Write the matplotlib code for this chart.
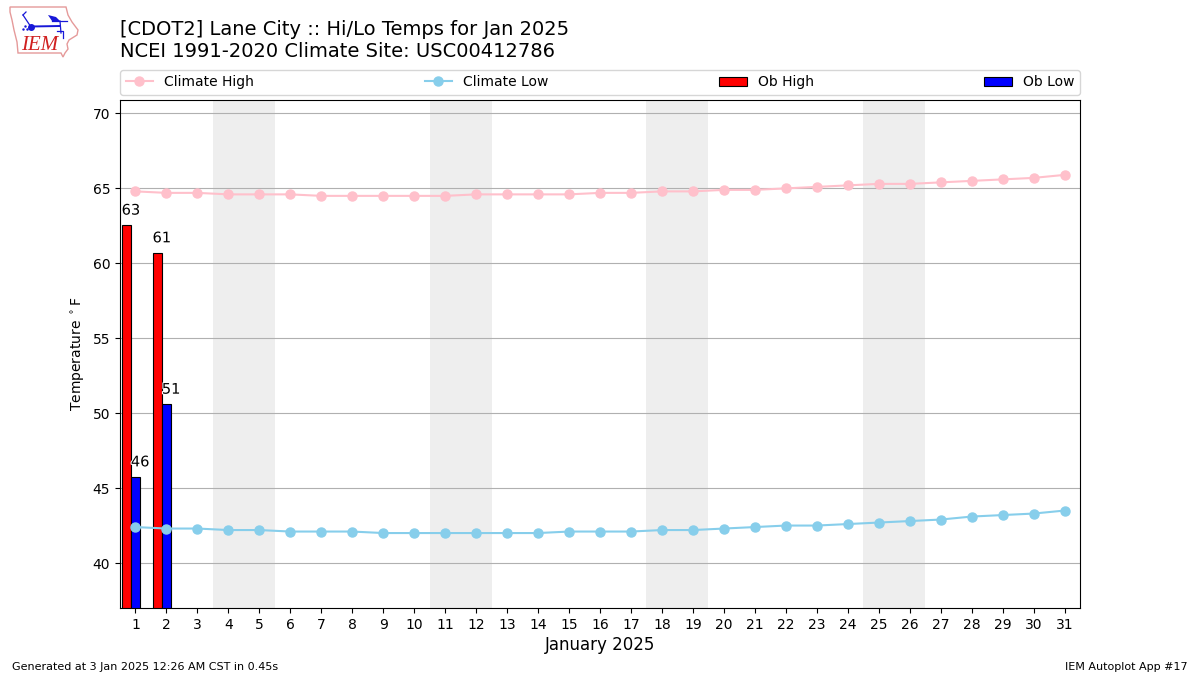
import numpy as np
import matplotlib
matplotlib.use("Agg")
import matplotlib.pyplot as plt
import matplotlib.patheffects as pe

days = list(range(1, 32))
climate_high = [64.8, 64.7, 64.7, 64.6, 64.6, 64.6, 64.5, 64.5, 64.5, 64.5, 64.5,
                64.6, 64.6, 64.6, 64.6, 64.7, 64.7, 64.8, 64.8, 64.9, 64.9, 65.0,
                65.1, 65.2, 65.3, 65.3, 65.4, 65.5, 65.6, 65.7, 65.9]
climate_low = [42.4, 42.3, 42.3, 42.2, 42.2, 42.1, 42.1, 42.1, 42.0, 42.0, 42.0,
               42.0, 42.0, 42.0, 42.1, 42.1, 42.1, 42.2, 42.2, 42.3, 42.4, 42.5,
               42.5, 42.6, 42.7, 42.8, 42.9, 43.1, 43.2, 43.3, 43.5]
ob_days = [1, 2]
ob_high = [62.55, 60.7]
ob_low = [45.75, 50.6]
ob_high_labels = ["63", "61"]
ob_low_labels = ["46", "51"]
weekends = [4, 11, 18, 25]

# logo outline in pixels of the figure
iowa_x = [10, 66, 68, 72, 78, 77, 69, 67, 68, 65, 63, 61, 18, 17, 14, 12, 10]
iowa_y = [7, 7, 15, 22, 30, 35, 40, 44, 49, 53, 57, 53, 53, 42, 30, 20, 12]

fig = plt.figure(figsize=(12, 6.75), dpi=100)
ax = fig.add_axes([0.1, 0.0993, 0.8, 0.7526])

# shade the weekends
for d in weekends:
    ax.axvspan(d - 0.5, d + 1.5, color="#eeeeee", lw=0, zorder=0)

ax.bar([d - 0.3 for d in ob_days], ob_high, width=0.3, color="r", ec="k", lw=0.8,
       label="Ob High", zorder=2)
ax.bar(ob_days, ob_low, width=0.3, color="b", ec="k", lw=0.8, label="Ob Low", zorder=2)
ax.plot(days, climate_high, color="pink", marker="o", ms=6.5, label="Climate High", zorder=3)
ax.plot(days, climate_low, color="skyblue", marker="o", ms=6.5, label="Climate Low", zorder=3)

halo = [pe.withStroke(linewidth=1.5, foreground="white")]
for d, v, s in zip(ob_days, ob_high, ob_high_labels):
    ax.text(d - 0.15, v + 0.5, s, ha="center", va="bottom", fontsize=10.5, zorder=4,
            path_effects=halo)
for d, v, s in zip(ob_days, ob_low, ob_low_labels):
    ax.text(d + 0.15, v + 0.5, s, ha="center", va="bottom", fontsize=10.5, zorder=4,
            path_effects=halo)

ax.set_xlim(0.5, 31.5)
ax.set_ylim(37, 70.9)
ax.set_xticks(days)
ax.set_yticks(range(40, 71, 5))
ax.grid(axis="y", color="#b0b0b0", lw=0.8, zorder=1)
ax.set_axisbelow(True)
ax.set_xlabel("January 2025", fontsize=12, labelpad=3)
ax.set_ylabel(r"Temperature $^\circ$F")

handles, labels = ax.get_legend_handles_labels()
order = [labels.index(n) for n in ["Climate High", "Climate Low", "Ob High", "Ob Low"]]
ax.legend([handles[i] for i in order], [labels[i] for i in order], ncol=4, mode="expand",
          loc="lower left", bbox_to_anchor=(0, 1.01, 1, 0.05), borderaxespad=0)

fig.text(0.1, 0.9095, "[CDOT2] Lane City :: Hi/Lo Temps for Jan 2025\n"
         "NCEI 1991-2020 Climate Site: USC00412786", fontsize=14, va="bottom", ha="left")
fig.text(0.01, 0.0075, "Generated at 3 Jan 2025 12:26 AM CST in 0.45s", fontsize=8)
fig.text(0.99, 0.0075, "IEM Autoplot App #17", fontsize=8, ha="right")

# rough IEM logo, figure pixel coordinates
logo = fig.add_axes([0, 1 - 65 / 675, 90 / 1200, 65 / 675])
logo.set_xlim(0, 90)
logo.set_ylim(65, 0)
logo.axis("off")
logo.fill(iowa_x, iowa_y, fc="white", ec="#e59a9a", lw=1)
blue = "#1818d8"
logo.plot([31, 60], [26.5, 26], color=blue, lw=1.4)
logo.plot([31], [27], "o", color=blue, ms=4)
logo.plot([23, 31], [15, 27], color=blue, lw=0.9)
logo.plot([23, 26], [15, 12], color=blue, lw=0.9)
logo.fill([48, 56, 60, 52], [15, 17, 21, 21], color=blue, lw=0)
logo.plot([52, 67], [21, 21], color=blue, lw=0.9)
logo.plot([60, 61], [21, 33], color=blue, lw=0.9)
logo.plot([57, 63, 63], [31, 31, 38], color=blue, lw=0.9)
logo.plot([23, 25, 27], [29, 26, 29], ".", color=blue, ms=1.5)
logo.text(21, 45.5, "IEM", color="#d02020", fontsize=15, family="Liberation Serif",
          style="italic", va="center", ha="left")

fig.savefig("out.png", dpi=100)
